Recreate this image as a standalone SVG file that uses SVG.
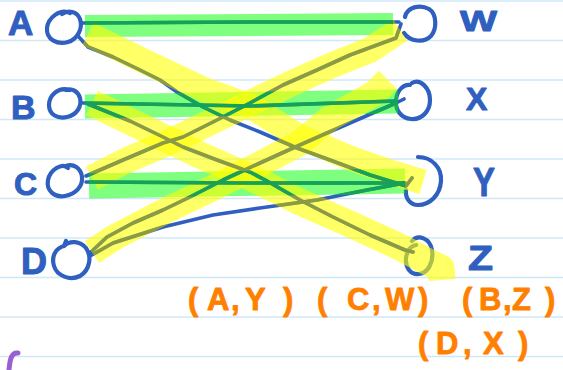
<svg xmlns="http://www.w3.org/2000/svg" width="563" height="370" viewBox="0 0 563 370">
<defs>
<style>
.rule{stroke:#cfe8f8;stroke-width:1.6}
.pen{fill:none;stroke:#2f5fbf;stroke-width:3.6;stroke-linecap:round;stroke-linejoin:round}
.ink{fill:none;stroke:#2f5fbf;stroke-width:4.2;stroke-linecap:round;stroke-linejoin:round}
.lbl{font-family:"Liberation Sans","Noto Sans",sans-serif;font-weight:bold;fill:#2f5fbf;stroke:#2f5fbf;stroke-width:1;stroke-linejoin:round}
.hg{fill:none;stroke:#00ff00;stroke-opacity:.5}
.hy{fill:none;stroke:#ffff00;stroke-opacity:.6}
.olv{fill:none;stroke:#8a9a45;stroke-width:3.6;stroke-linecap:round;stroke-linejoin:round}
.dgr{fill:none;stroke:#16a05a;stroke-width:3.6;stroke-linecap:round;stroke-linejoin:round}
.ans{font-family:"Liberation Sans","Noto Sans",sans-serif;font-weight:bold;font-size:31px;fill:#ff8000;stroke:#ff8000;stroke-width:0.8;stroke-linejoin:round}
</style>
<g id="gb" stroke-linecap="butt" stroke-linejoin="round">
<path d="M85,26 L393,24" stroke-width="22"/>
<path d="M85,106.5 L398,101.5" stroke-width="24"/>
<path d="M89,186 L405,181" stroke-width="25"/>
</g>
<g id="yb" stroke-linecap="butt" stroke-linejoin="round">
<path d="M88,34 L150,64 L205,90 L250,106 L300,137 L350,158 L390,172 L423,182" stroke-width="25"/>
<path d="M92,103 L150,131 L200,155 L250,177 L300,202 L350,224 L400,247 L428,262 L441,268 L442,280" stroke-width="27"/>
<path d="M92,178 L125,161 L165,144 L215,120 L250,103 L290,84 L330,66 L370,50 L400,30" stroke-width="26"/>
<path d="M92,252 L115,237 L165,211 L215,187 L260,164 L300,143 L330,118 L375,93 L388,80" stroke-width="26"/>
</g>
<mask id="mG" maskUnits="userSpaceOnUse" x="0" y="0" width="563" height="370"><use href="#gb" fill="none" stroke="#fff"/></mask>
<mask id="mY" maskUnits="userSpaceOnUse" x="0" y="0" width="563" height="370"><use href="#yb" fill="none" stroke="#fff"/></mask>
</defs>
<rect width="563" height="370" fill="#fff"/>
<g id="paper">
<line class="rule" x1="0" y1="1" x2="563" y2="1"/>
<line class="rule" x1="0" y1="40.5" x2="563" y2="40.5"/>
<line class="rule" x1="0" y1="80" x2="563" y2="80"/>
<line class="rule" x1="0" y1="119.5" x2="563" y2="119.5"/>
<line class="rule" x1="0" y1="159" x2="563" y2="159"/>
<line class="rule" x1="0" y1="198.5" x2="563" y2="198.5"/>
<line class="rule" x1="0" y1="238" x2="563" y2="238"/>
<line class="rule" x1="0" y1="277.5" x2="563" y2="277.5"/>
<line class="rule" x1="0" y1="317" x2="563" y2="317"/>
<line class="rule" x1="0" y1="356.5" x2="563" y2="356.5"/>
</g>
<g id="node-A">
<text class="lbl" x="8" y="35" font-size="35">A</text>
<path class="ink" d="M70,13 C60,8 48,18 47,28 C46,40 58,45 68,42 C78,39 83,28 80,19 C77,11 68,10 62,14"/>
</g>
<g id="node-B">
<text class="lbl" x="11" y="119" font-size="34">B</text>
<path class="ink" d="M70,90 C58,86 49,96 49,105 C49,115 58,119 67,117 C77,115 82,106 80,98 C78,91 72,88 66,90"/>
</g>
<g id="node-C">
<text class="lbl" x="14" y="195" font-size="32">C</text>
<path class="ink" d="M68,168 C62,162 50,170 48,180 C46,191 55,198 65,196 C76,194 83,186 82,177 C81,168 73,163 66,166"/>
</g>
<g id="node-D">
<text class="lbl" x="21" y="274" font-size="36">D</text>
<path class="ink" d="M66,241 L64,246 C70,240 80,241 86,248 C92,256 90,270 80,276 C70,281 57,276 54,266 C51,256 56,248 64,246"/>
</g>
<g id="node-W">
<text class="lbl" x="460" y="31" font-size="30" textLength="37" lengthAdjust="spacingAndGlyphs">W</text>
<path class="ink" d="M405,17 C407,7 420,4 429,9 C437,14 437,29 431,36 C424,43 410,42 404,33"/>
</g>
<g id="node-X">
<text class="lbl" x="466" y="110" font-size="32">X</text>
<path class="ink" d="M412,83 C420,78 430,88 430,100 C430,112 421,120 411,119 C401,118 395,110 396,100 C397,90 404,84 410,85"/>
</g>
<g id="node-Y">
<text class="lbl" x="473" y="196" font-size="40" textLength="22" lengthAdjust="spacingAndGlyphs">Y</text>
<path class="ink" d="M418,157 C432,157 442,168 441,181 C440,195 430,205 418,205 C410,205 405,198 406,190"/>
</g>
<g id="node-Z">
<text class="lbl" x="468" y="270" font-size="35" textLength="25" lengthAdjust="spacingAndGlyphs">Z</text>
<path class="ink" d="M412,241 C418,234 430,238 432,250 C434,262 428,273 419,274 C411,275 405,268 406,258 C407,250 411,246 416,245"/>
</g>
<g id="connectors" class="pen">
<g id="pp">
<path d="M82,23 L250,22 L399,22"/>
<path d="M83,103 L250,106 L396,101"/>
<path d="M86,182 L250,183 L404,183"/>
<path d="M78,36 L88,47 L113,57 L140,70 L160,80 L177,92 L203,107 L230,120 L260,132 L297,148 L330,160 L370,175 L406,186 L412,178"/>
<path d="M88,104 L130,121 L163,137 L183,147 L217,160 L250,172 L267,181 L300,200 L333,217 L370,235 L405,250 L413,252"/>
<path d="M86,176 L123,160 L163,143 L183,137 L217,120 L250,103 L283,85 L317,70 L350,55 L396,38 L401,24"/>
<path d="M90,253 L107,237 L133,223 L163,210 L190,197 L223,180 L260,163 L293,148 L327,133 L396,103 L404,99"/>
<path d="M90,256 L113,243 L163,227 L213,215 L260,208 L317,200 L367,190 L405,183"/>
</g>
</g>
<g id="highlights">
<use href="#gb" class="hg"/>
<use href="#yb" class="hy"/>
<use href="#pp" class="olv" mask="url(#mY)"/>
<use href="#pp" class="dgr" mask="url(#mG)"/>
</g>
<g id="answer">
<text class="ans" x="188 207 231 245 283" y="310">(A,Y)</text>
<text class="ans" x="317 347 372 385 418" y="310">(C,W)</text>
<text class="ans" x="462 479 503 512 545" y="310">(B,Z)</text>
<text class="ans" x="418 436 463 483 518" y="354">(D,X)</text>
</g>
<path id="mark" d="M18,353 C12,352 10,358 9,370" fill="none" stroke="#9a5fd0" stroke-width="5" stroke-linecap="round"/>
</svg>
